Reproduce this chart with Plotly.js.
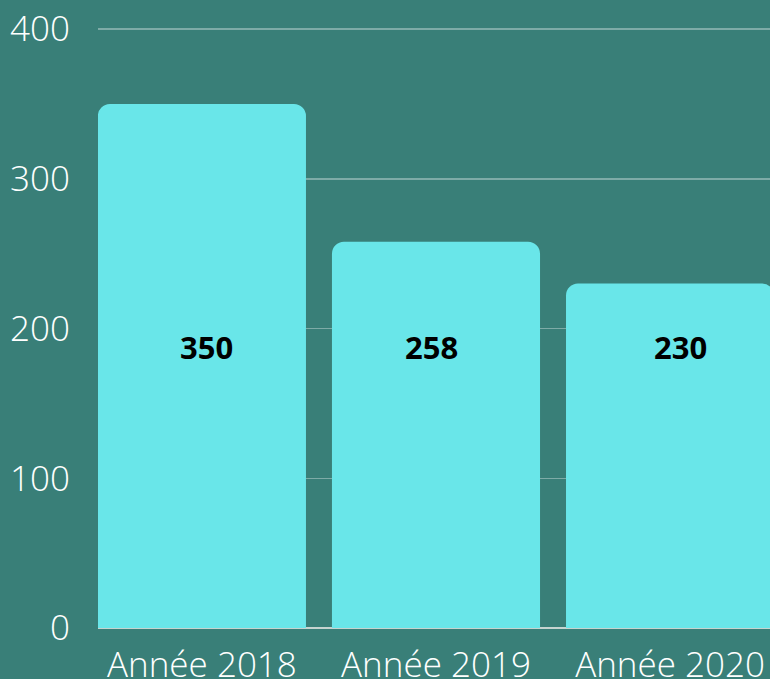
<!DOCTYPE html>
<html><head><meta charset="utf-8">
<script src="https://cdn.plot.ly/plotly-3.0.1.min.js"></script>
<style>html,body{margin:0;padding:0;background:#397f78;overflow:hidden}</style>
</head><body><div id="chart" style="width:770px;height:679px"></div>
<script>
const categories = ["Année 2018", "Année 2019", "Année 2020"];
const values = [350, 258, 230];
const valueLabels = ["350", "258", "230"];

const trace = {
  type: "bar",
  x: categories,
  y: values,
  marker: {color: "#69e6e9", cornerradius: 12, line: {width: 0}},
  hoverinfo: "none"
};

const labelXShift = [5, -4, 10];
const annotations = categories.map((c, i) => ({
  x: c, xref: "x", y: 0.468, yref: "paper",
  xshift: labelXShift[i],
  text: "<b>" + valueLabels[i] + "</b>",
  showarrow: false,
  font: {family: "Open Sans", size: 31, color: "#000000"},
  xanchor: "center", yanchor: "middle"
}));

const layout = {
  width: 770, height: 679,
  paper_bgcolor: "#397f78",
  plot_bgcolor: "#397f78",
  margin: {l: 98, r: 0, t: 28, b: 51},
  bargap: 0.111,
  showlegend: false,
  xaxis: {
    range: [-0.444, 2.427],
    showgrid: false,
    zeroline: false,
    showline: false,
    ticks: "",
    ticklabelstandoff: 13,
    tickfont: {family: "Open Sans", size: 35, color: "#ffffff", weight: 300},
    fixedrange: true
  },
  yaxis: {
    range: [0, 400.7],
    tickvals: [0, 100, 200, 300, 400],
    gridcolor: "rgba(255,255,255,0.35)",
    gridwidth: 1.5,
    zeroline: true,
    zerolinecolor: "#c6d4d0",
    zerolinewidth: 1.5,
    showline: false,
    ticks: "",
    ticklabelstandoff: 27,
    tickfont: {family: "Open Sans", size: 35, color: "#ffffff", weight: 300},
    fixedrange: true
  },
  annotations: annotations
};

Plotly.newPlot("chart", [trace], layout, {staticPlot: true, displayModeBar: false});
</script></body></html>
